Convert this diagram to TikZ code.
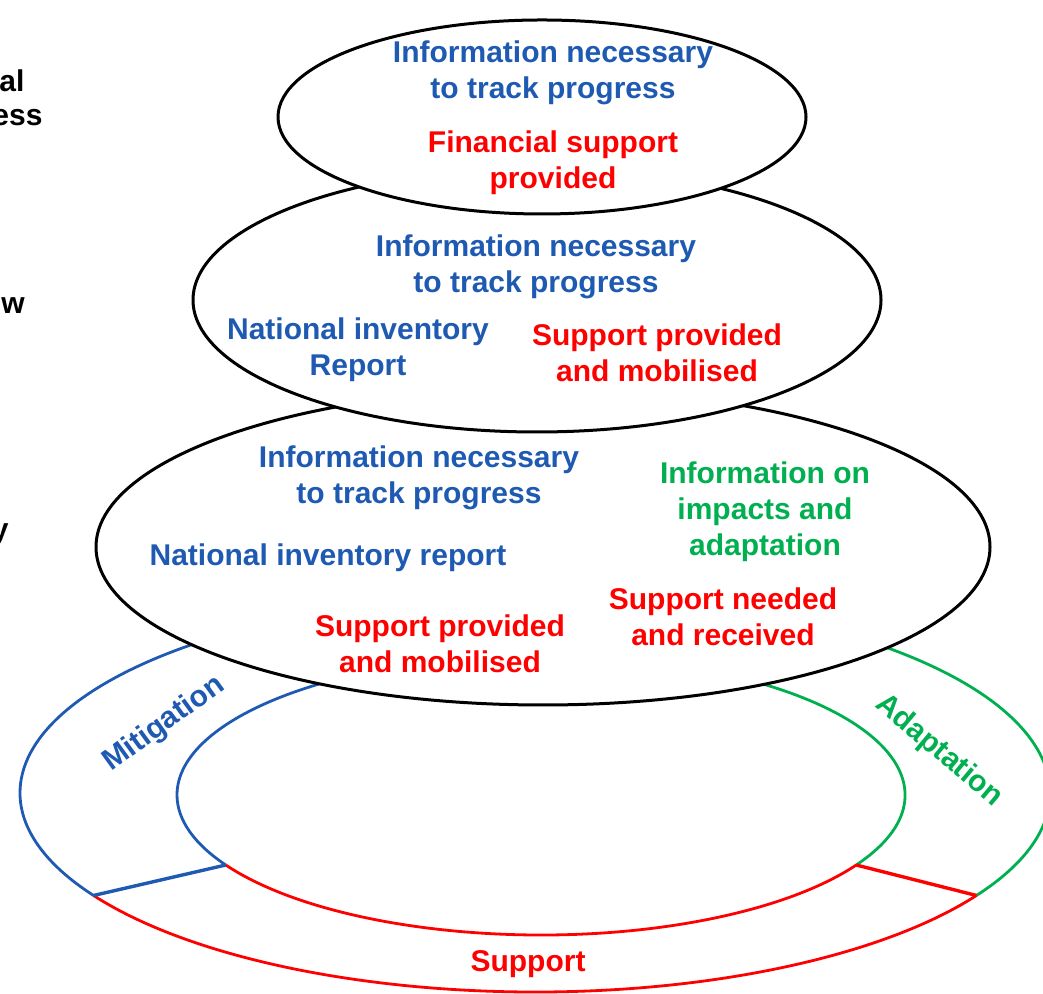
\documentclass[tikz,border=0pt]{standalone}
\usepackage{fontspec}
\setmainfont{Liberation Sans}
\usetikzlibrary{shapes.geometric}
\definecolor{cblue}{RGB}{30,90,178}
\definecolor{cgreen}{RGB}{0,176,80}
\definecolor{cred}{RGB}{255,0,0}
\begin{document}
\begin{tikzpicture}[x=0.5pt,y=0.5pt,
  lbl/.style={font=\fontsize{15}{18}\selectfont\bfseries, align=center, inner sep=0pt},
  oval/.style={ellipse, draw=black, line width=1.5pt, fill=white, inner sep=0pt},
  ring/.style={line width=1.4pt},
  divider/.style={line width=1.7pt}]
\useasboundingbox (0,0) rectangle (1043,994);
% ring
\coordinate (oc) at (535,201);
\coordinate (ic) at (541,199);
\path (oc) ++(211:257.5pt and 99.5pt) coordinate (oL);
\path (oc) ++(329:257.5pt and 99.5pt) coordinate (oR);
\path (ic) ++(210:182pt and 70pt) coordinate (iL);
\path (ic) ++(330:182pt and 70pt) coordinate (iR);
\path (oc) ++(90:257.5pt and 99.5pt) coordinate (oT);
\path (ic) ++(90:182pt and 70pt) coordinate (iT);
\draw[ring, cblue] (oT) arc[start angle=90, end angle=211, x radius=257.5pt, y radius=99.5pt];
\draw[ring, cgreen] (oR) arc[start angle=-31, end angle=90, x radius=257.5pt, y radius=99.5pt];
\draw[ring, cred] (oL) arc[start angle=211, end angle=329, x radius=257.5pt, y radius=99.5pt];
\draw[ring, cblue] (iT) arc[start angle=90, end angle=210, x radius=182pt, y radius=70pt];
\draw[ring, cgreen] (iR) arc[start angle=-30, end angle=90, x radius=182pt, y radius=70pt];
\draw[ring, cred] (iL) arc[start angle=210, end angle=330, x radius=182pt, y radius=70pt];
\draw[divider, cblue] (oL) -- (iL);
\draw[divider, cred] (iR) -- (oR);
% ellipses
\node[oval, minimum width=447pt, minimum height=158pt] (e3) at (543,447) {};
\node[oval, minimum width=344pt, minimum height=132pt] (e2) at (537,694) {};
\node[oval, minimum width=264pt, minimum height=97pt] (e1) at (542,877) {};
% top ellipse texts
\node[lbl, cblue] (t1a) at (553,921) {Information necessary\\to track progress};
\node[lbl, cred] (t1b) at (553,831) {Financial support\\provided};
% middle ellipse texts
\node[lbl, cblue] (t2a) at (536,727) {Information necessary\\to track progress};
\node[lbl, cblue] (t2b) at (358,644) {National inventory\\Report};
\node[lbl, cred] (t2c) at (657,641) {Support provided\\and mobilised};
% bottom ellipse texts
\node[lbl, cblue] (t3a) at (419,516) {Information necessary\\to track progress};
\node[lbl, cgreen] (t3b) at (765,482) {Information on\\impacts and\\adaptation};
\node[lbl, cblue] (t3c) at (328,436) {National inventory report};
\node[lbl, cred] (t3d) at (723,377) {Support needed\\and received};
\node[lbl, cred] (t3e) at (440,350) {Support provided\\and mobilised};
% ring texts
\node[lbl, cred] (rs) at (528,30) {Support};
\node[lbl, cblue, rotate=36] (rm) at (164,270) {Mitigation};
\node[lbl, cgreen, rotate=-40] (ra) at (939,243) {Adaptation};
% cut-off left labels
\node[lbl, anchor=west] (l1) at (-1,913) {al};
\node[lbl, anchor=west] (l2) at (-8,876) {ess};
\node[lbl, anchor=west] (l3) at (1,688) {w};
\node[lbl, anchor=east] (l4) at (9,459) {y};
\end{tikzpicture}
\end{document}
